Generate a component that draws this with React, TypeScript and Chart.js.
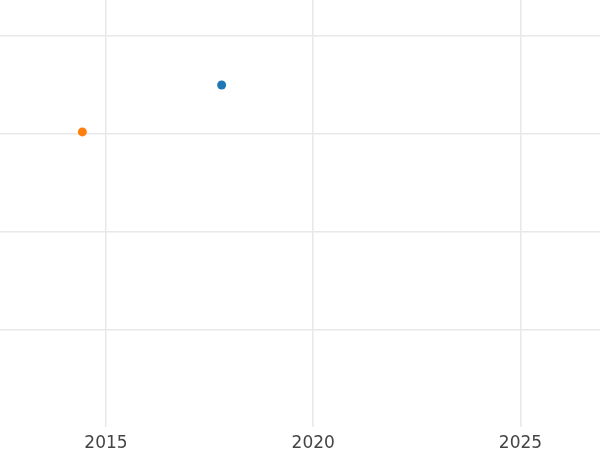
import React, { useEffect, useRef } from "react";
import { Chart, registerables } from "chart.js";

Chart.register(...registerables);

const seriesNames = ["Series A", "Series B"];
const seriesColors = ["#1f77b4", "#ff7f0e"];
const seriesX = [[2017.79], [2014.43]];
const seriesY = [[3.5], [3.02]];
const xTicks = [2015, 2020, 2025];
const yTicks = [1, 2, 3, 4];
const xRange = [2012.443, 2026.918];
const yRange = [0, 4.37];

export default function App() {
  const ref = useRef<HTMLCanvasElement | null>(null);
  useEffect(() => {
    if (!ref.current) return;
    const chart = new Chart(ref.current, {
      type: "scatter",
      data: {
        datasets: seriesNames.map((name, i) => ({
          label: name,
          data: seriesX[i].map((x, j) => ({ x, y: seriesY[i][j] })),
          backgroundColor: seriesColors[i],
          borderColor: seriesColors[i],
          pointRadius: 4.5,
          borderWidth: 0,
        })),
      },
      options: {
        animation: false,
        responsive: false,
        maintainAspectRatio: false,
        layout: { padding: 0, autoPadding: false },
        plugins: { legend: { display: false }, tooltip: { enabled: false } },
        scales: {
          x: {
            type: "linear",
            min: xRange[0],
            max: xRange[1],
            afterBuildTicks: (s: any) => {
              s.ticks = xTicks.map((v) => ({ value: v }));
            },
            afterFit: (s: any) => {
              s.height = 23;
            },
            grid: { color: "#e8e8e8", lineWidth: 1.5, drawTicks: false },
            border: { display: false },
            ticks: {
              padding: 6,
              color: "#444",
              font: { family: "DejaVu Sans", size: 17 },
              callback: (v: any) => String(v),
              maxRotation: 0,
            },
          },
          y: {
            type: "linear",
            min: yRange[0],
            max: yRange[1],
            afterBuildTicks: (s: any) => {
              s.ticks = yTicks.map((v) => ({ value: v }));
            },
            afterFit: (s: any) => {
              s.width = 0;
            },
            grid: { color: "#e8e8e8", lineWidth: 1.5, drawTicks: false },
            border: { display: false },
            ticks: { display: false },
          },
        },
      },
    });
    return () => chart.destroy();
  }, []);
  return (
    <div style={{ position: "fixed", left: 0, top: 0, width: 600, height: 450, background: "#fff" }}>
      <canvas ref={ref} width={600} height={450} style={{ width: 600, height: 450, display: "block" }} />
    </div>
  );
}
